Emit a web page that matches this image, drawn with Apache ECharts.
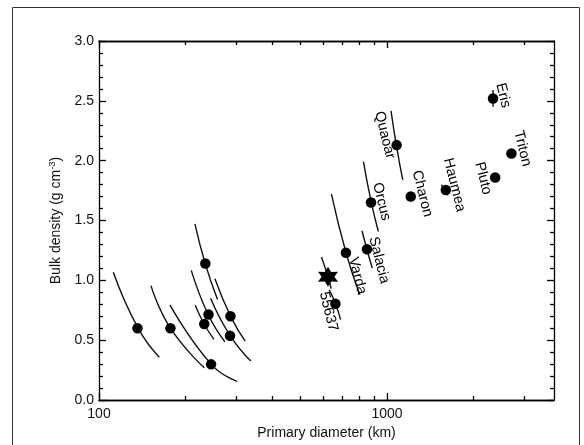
<!DOCTYPE html>
<html><head><meta charset="utf-8">
<script src="https://cdn.jsdelivr.net/npm/echarts@6/dist/echarts.min.js"></script>
<style>html,body{margin:0;padding:0;background:#fff}#c{width:584px;height:445px}</style>
</head><body><div id="c"></div>
<script>
// ---- data ----
const names = ['Eris','Triton','Pluto','Haumea','Charon','Quaoar','Orcus','Salacia','Varda','55637'];
const diameters = [2334, 2704, 2374, 1600, 1209, 1080, 880, 852, 720, 662];
const densities = [2.52, 2.06, 1.86, 1.755, 1.70, 2.13, 1.65, 1.26, 1.23, 0.805];

const smallDiameters = [136, 177, 234, 240, 232, 286, 285, 245];
const smallDensities = [0.60, 0.60, 1.14, 0.715, 0.635, 0.70, 0.537, 0.298];

const starDiameter = [624];
const starDensity = [1.03];

// error tracks: [diameter, density] points
const errorTracks = [
  [[112.1,1.067],[136.8,0.598],[161.9,0.358]],
  [[151.5,0.956],[177.3,0.598],[232,0.27]],
  [[176.4,0.795],[245.3,0.298],[301.8,0.156]],
  [[215.3,1.4725],[234,1.137],[258,0.839]],
  [[209.1,1.083],[239.4,0.714],[273.5,0.487]],
  [[215.8,0.792],[232,0.633],[250.6,0.506]],
  [[252.6,1.014],[287,0.695],[321.8,0.492]],
  [[244,0.85],[285.4,0.537],[336.5,0.325]],
  [[1032.6,2.417],[1078,2.125],[1134,1.839]],
  [[828,1.992],[883,1.645],[933,1.408]],
  [[819,1.414],[852,1.256],[889,1.103]],
  [[641,1.7225],[721,1.228],[804,0.881]],
  [[592,1.195],[624,1.03],[640,0.93]],
  [[630,0.92],[662,0.806],[690,0.672]],
  [[1544,1.80],[1628,1.71]],
  [[2334,2.59],[2334,2.45]]
];

const xMajorTicks = [100, 1000];
const xMinorTicks = [200,300,400,500,600,700,800,900,2000,3000];
const xTickLabels = ['100','1000'];

// ---- styles ----
const FONT = 'Liberation Sans, Arial, Helvetica, sans-serif';
const INK = '#000';
const labelOffsets = {
  'Eris':[10,-3], 'Triton':[11,-5], 'Pluto':[-12,1], 'Haumea':[8.5,-5], 'Charon':[11.5,-3],
  'Quaoar':[-12,-10], 'Orcus':[10.5,-1], 'Salacia':[12,11], 'Varda':[11.5,23], '55637':[-7,8]
};

function starPath(){
  let p = '';
  for (let k = 0; k < 12; k++) {
    const a = (-90 + k * 30) * Math.PI / 180;
    const r = k % 2 === 0 ? 1 : 0.55;
    p += (k === 0 ? 'M' : 'L') + (r * Math.cos(a)).toFixed(4) + ' ' + (r * Math.sin(a)).toFixed(4) + ' ';
  }
  return 'path://' + p + 'Z';
}

function xAxis(pos, ticks, len, showLabel){
  return {
    type:'log', logBase:10, min:100, max:3800, position:pos, gridIndex:0,
    axisLine:{show:true, onZero:false, lineStyle:{color:INK, width:1.3}},
    axisTick:{show:true, inside:true, length:len, customValues:ticks, lineStyle:{color:INK, width:1.3}},
    axisLabel:{show:showLabel, customValues: showLabel ? xMajorTicks : undefined,
      formatter:(v)=> xTickLabels[xMajorTicks.indexOf(v)] !== undefined ? xTickLabels[xMajorTicks.indexOf(v)] : String(v),
      color:'#111', fontFamily:FONT, fontSize:14, margin:7},
    splitLine:{show:false}, minorTick:{show:false}
  };
}
function yAxis(pos, showLabel){
  return {
    type:'value', min:0, max:3, interval:0.5, position:pos,
    axisLine:{show:true, lineStyle:{color:INK, width:1.3}},
    axisTick:{show:true, inside:true, length:7, lineStyle:{color:INK, width:1.3}},
    minorTick:{show:true, splitNumber:5, length:4, lineStyle:{color:INK, width:1.3}},
    axisLabel:{show:showLabel, formatter:(v)=>v.toFixed(1), color:'#111', fontFamily:FONT, fontSize:14, margin:5},
    splitLine:{show:false}
  };
}

const xAxes = [xAxis('bottom', xMajorTicks, 7, true), xAxis('bottom', xMinorTicks, 4, false),
               xAxis('top', xMajorTicks, 7, false), xAxis('top', xMinorTicks, 4, false)];
xAxes[0].name = 'Primary diameter (km)';
xAxes[0].nameLocation = 'middle';
xAxes[0].nameGap = 24;
xAxes[0].nameTextStyle = {color:'#111', fontFamily:FONT, fontSize:14};

const yAxes = [yAxis('left', true), yAxis('right', false)];
yAxes[0].name = 'Bulk density (g cm{sup|-3})';
yAxes[0].nameLocation = 'middle';
yAxes[0].nameRotate = 90;
yAxes[0].nameGap = 33;
yAxes[0].nameTextStyle = {color:'#111', fontFamily:FONT, fontSize:14,
  rich:{sup:{fontSize:9.5, fontFamily:FONT, color:'#111', padding:[0,0,8,0]}}};

const series = [];
errorTracks.forEach(t => series.push({
  type:'line', xAxisIndex:0, yAxisIndex:0, data:t, smooth:0.5, showSymbol:false, silent:true,
  lineStyle:{color:'#111', width:1.4}, z:2
}));
series.push({
  type:'scatter', xAxisIndex:0, yAxisIndex:0, symbol:'circle', symbolSize:10.5, silent:true,
  itemStyle:{color:'#000', opacity:1}, z:3,
  data: diameters.map((d,i)=>({name:names[i], value:[d, densities[i]]})).concat(
        smallDiameters.map((d,i)=>[d, smallDensities[i]]))
});
series.push({
  type:'scatter', xAxisIndex:0, yAxisIndex:0, symbol:starPath(), symbolSize:20, silent:true,
  itemStyle:{color:'#000', opacity:1}, z:4,
  data: starDiameter.map((d,i)=>[d, starDensity[i]])
});

const chart = echarts.init(document.getElementById('c'));
const frame = {type:'rect', shape:{x:12.5, y:7.5, width:567, height:460}, style:{fill:'none', stroke:'#333', lineWidth:1}, silent:true};
chart.setOption({
  animation:false, backgroundColor:'#fff',
  grid:{left:99, right:30, top:41, bottom:45, containLabel:false},
  xAxis:xAxes, yAxis:yAxes, series:series,
  graphic:[frame]
});

const labelGraphics = names.map((n,i)=>{
  const p = chart.convertToPixel({xAxisIndex:0, yAxisIndex:0}, [diameters[i], densities[i]]);
  const o = labelOffsets[n];
  return {type:'text', x:p[0]+o[0], y:p[1]+o[1], rotation:-76*Math.PI/180, silent:true, z:10,
    style:{text:n, fill:'#000', font:'14.5px ' + FONT, textAlign:'center', textVerticalAlign:'middle'}};
});
chart.setOption({graphic:[frame].concat(labelGraphics)});
</script></body></html>
